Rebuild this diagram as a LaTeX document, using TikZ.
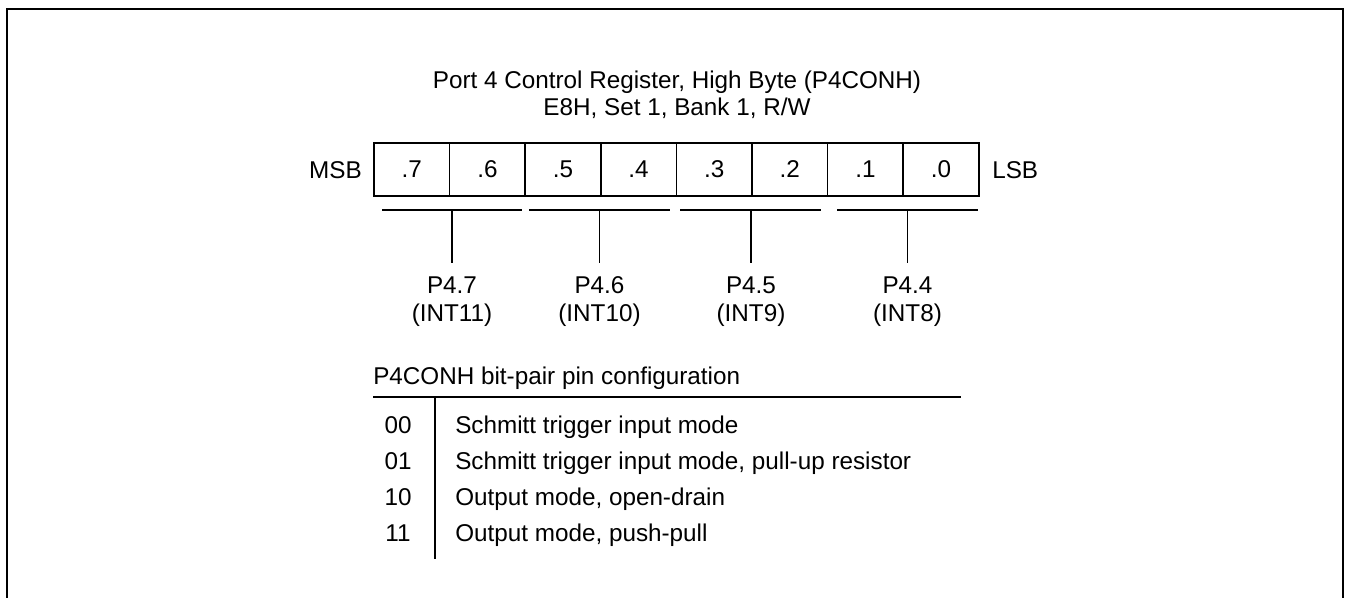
\documentclass[tikz,border=0pt]{standalone}
\usepackage{fontspec}
\setmainfont{Liberation Sans}
\begin{document}
\begin{tikzpicture}[x=0.75pt,y=-0.75pt,
  lbl/.style={font=\fontsize{18.2}{22}\selectfont, inner sep=0pt},
  cell/.style={draw, line width=1.1pt, minimum width=56.7pt, minimum height=39.75pt,
               inner sep=0pt, font=\fontsize{18.2}{22}\selectfont},
  frame/.style={line width=2pt},
  brk/.style={line width=1.4pt},
  rule/.style={line width=1.2pt}]
\useasboundingbox (0,0) rectangle (1348,598);
% outer frame (bottom edge lies below the picture)
\draw[frame] (7,598) -- (7,9) -- (1343,9) -- (1343,598);

% title
\node[lbl, anchor=base] (t1) at (677,88.7) {Port 4 Control Register, High Byte (P4CONH)};
\node[lbl, anchor=base] (t2) at (677,115.7) {E8H, Set 1, Bank 1, R/W};

% register cells
\foreach \b [count=\k from 0] in {7,6,5,4,3,2,1,0}
  \node[cell] (c\b) at ({374+75.6*(\k+0.5)},169.5) {.\b};
\node[lbl, anchor=base east] (msb) at (362,178.2) {MSB};
\node[lbl, anchor=base west] (lsb) at (992,178.2) {LSB};

% bracket lines
\draw[brk] (382,210) -- (522,210);
\draw[brk] (529,210) -- (670,210);
\draw[brk] (680,210) -- (821,210);
\draw[brk] (837,210) -- (978,210);

% pin labels and ticks
\foreach \n/\x/\p/\i in {7/452/P4.7/(INT11), 6/599.5/P4.6/(INT10), 5/751/P4.5/(INT9), 4/907.5/P4.4/(INT8)} {
  \coordinate (b\n) at (\x,210);
  \coordinate (e\n) at (\x,263);
  \node[lbl, anchor=base] (p\n) at (\x,293.7) {\p};
  \node[lbl, anchor=base] (i\n) at (\x,321.7) {\i};
  \draw[brk] (b\n) -- (e\n);
}

% configuration table
\node[lbl, anchor=base west] (tt) at (373,384.7) {P4CONH bit-pair pin configuration};
\draw[rule, line width=1.4pt] (373,397) -- (961,397);
\draw[rule] (435,397) -- (435,559);
\foreach \c/\d/\y in {00/{Schmitt trigger input mode}/433.7,
                      01/{Schmitt trigger input mode, pull-up resistor}/469.7,
                      10/{Output mode, open-drain}/505.7,
                      11/{Output mode, push-pull}/541.7} {
  \node[lbl, anchor=base] (k\c) at (398,\y) {\c};
  \node[lbl, anchor=base west] (d\c) at (455,\y) {\d};
}
\end{tikzpicture}
\end{document}
